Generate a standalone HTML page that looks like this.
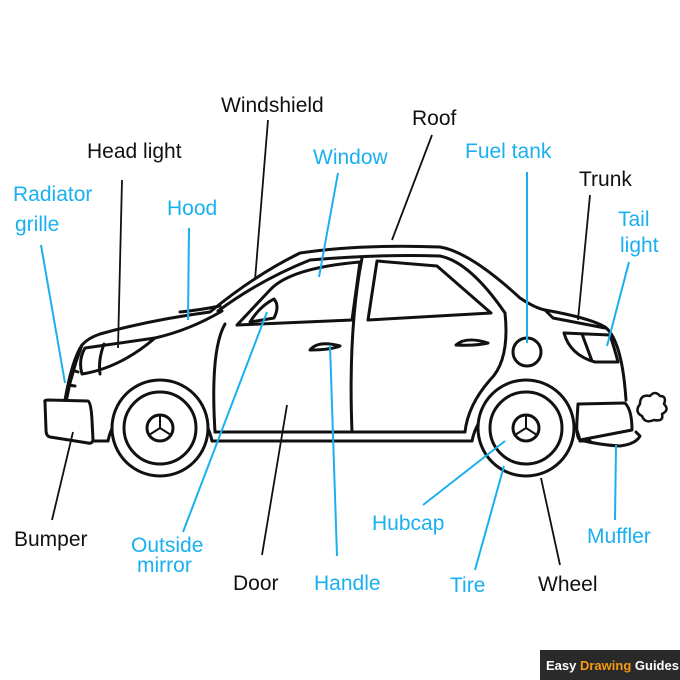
<!DOCTYPE html>
<html><head><style>
body{margin:0;background:#fff}
svg{display:block}
text{font-family:"Liberation Sans",sans-serif;font-size:21px}
.k{fill:#111}.b{fill:#1ab0ef}
</style></head><body>
<svg width="680" height="680" viewBox="0 0 680 680">
<g fill="none" stroke="#111" stroke-width="3" stroke-linejoin="round" stroke-linecap="round">
<path d="M66,402 L70,383 L76,362 L82,345 Q88,338 100,334 Q150,320 210,312 Q255,275 300,253 Q360,244 440,247 Q470,252 520,298 Q535,308 545,310 Q590,318 605,327 Q622,340 626,400"/>
<path d="M180,312 Q200,310 220,306"/>
<path d="M218,311 Q260,280 310,260 Q380,254 440,256 Q470,262 505,313"/>
<path d="M85,348 L155,338 Q120,368 82,374 Q78,360 85,348Z"/>
<path d="M104,344 Q98,360 100,374"/>
<path d="M82,345 Q72,360 65,400 M72,370 L78,372 M68,385 L75,386"/>
<path d="M155,338 Q190,330 222,311"/>
<path d="M92,441 L108,441 M212,441 L472,441 M580,441 L590,441"/>
<path d="M215,432 L465,432"/>
<path d="M108,441 A53,53 0 0 1 212,441"/>
<path d="M472,441 A55,55 0 0 1 580,441"/>
<path d="M45,402 Q44,400 48,400 L88,401 Q91,402 92,420 L93,440 Q92,444 88,443 L50,437 Q46,436 46,430Z" fill="#fff"/>
<path d="M225,324 Q210,350 215,432"/>
<path d="M237,325 L270,290 Q290,268 360,262 L352,320 Z"/>
<path d="M362,258 Q348,330 352,432"/>
<path d="M377,261 L437,266 L491,313 L368,320 Z"/>
<path d="M505,313 Q510,360 490,380 Q468,405 465,432"/>
<path d="M250,322 Q260,306 274,299 Q280,306 274,318 Z"/>
<path d="M310,350 Q318,340 340,346 Q330,350 310,350Z"/>
<path d="M456,345 Q466,336 488,343 Q475,346 456,345Z"/>
<circle cx="527" cy="352" r="14"/>
<path d="M545,310 L553,318 L605,328"/>
<path d="M564,333 L610,335 Q615,350 618,362 L595,362 Q570,355 564,333Z M582,334 L592,361"/>
<path d="M578,404 L625,403 Q632,410 632,430 L580,440 Q576,438 577,420Z"/>
<path d="M580,440 Q600,445 620,446 Q636,444 640,436 L636,432"/>
<circle cx="160" cy="428" r="48" fill="#fff"/><circle cx="160" cy="428" r="36"/><circle cx="160" cy="428" r="13"/>
<path d="M160,415 L160,428 L149,435 M160,428 L171,435" stroke-width="2"/>
<circle cx="526" cy="428" r="48" fill="#fff"/><circle cx="526" cy="428" r="36"/><circle cx="526" cy="428" r="13"/>
<path d="M526,415 L526,428 L515,435 M526,428 L537,435" stroke-width="2"/>
<path d="M640,404 Q640,394 650,396 Q655,390 660,396 Q667,396 664,404 Q670,410 662,414 Q664,422 654,420 Q645,424 642,416 Q634,412 640,404Z" stroke-width="2.5"/>
</g>
<g stroke="#111" stroke-width="1.8">
<line x1="122" y1="180" x2="118" y2="348"/>
<line x1="268" y1="120" x2="255" y2="280"/>
<line x1="432" y1="135" x2="392" y2="240"/>
<line x1="590" y1="195" x2="578" y2="320"/>
<line x1="73" y1="432" x2="52" y2="520"/>
<line x1="287" y1="405" x2="262" y2="555"/>
<line x1="541" y1="478" x2="560" y2="565"/>
</g>
<g stroke="#1ab0ef" stroke-width="2">
<line x1="41" y1="245" x2="65" y2="383"/>
<line x1="189" y1="228" x2="188" y2="320"/>
<line x1="338" y1="173" x2="319" y2="277"/>
<line x1="527" y1="172" x2="527" y2="343"/>
<line x1="629" y1="262" x2="607" y2="346"/>
<line x1="267" y1="312" x2="183" y2="532"/>
<line x1="330" y1="345" x2="337" y2="556"/>
<line x1="505" y1="441" x2="423" y2="505"/>
<line x1="504" y1="466" x2="475" y2="570"/>
<line x1="616" y1="445" x2="615" y2="520"/>
</g>
<g>
<text class="k" x="87" y="158">Head light</text>
<text class="k" x="221" y="112">Windshield</text>
<text class="k" x="412" y="125">Roof</text>
<text class="k" x="579" y="186">Trunk</text>
<text class="k" x="14" y="546">Bumper</text>
<text class="k" x="233" y="590">Door</text>
<text class="k" x="538" y="591">Wheel</text>
<text class="b" x="13" y="201">Radiator</text>
<text class="b" x="15" y="231">grille</text>
<text class="b" x="167" y="215">Hood</text>
<text class="b" x="313" y="164">Window</text>
<text class="b" x="465" y="158">Fuel tank</text>
<text class="b" x="618" y="226">Tail</text>
<text class="b" x="620" y="252">light</text>
<text class="b" x="131" y="552">Outside</text>
<text class="b" x="137" y="572">mirror</text>
<text class="b" x="314" y="590">Handle</text>
<text class="b" x="372" y="530">Hubcap</text>
<text class="b" x="450" y="592">Tire</text>
<text class="b" x="587" y="543">Muffler</text>
</g>
<rect x="540" y="650" width="140" height="30" fill="#2a2a2a"/>
<text x="546" y="670" style="font-size:13px;font-weight:bold" fill="#fff">Easy <tspan fill="#f39c12">Drawing</tspan> Guides</text>
</svg>
</body></html>
